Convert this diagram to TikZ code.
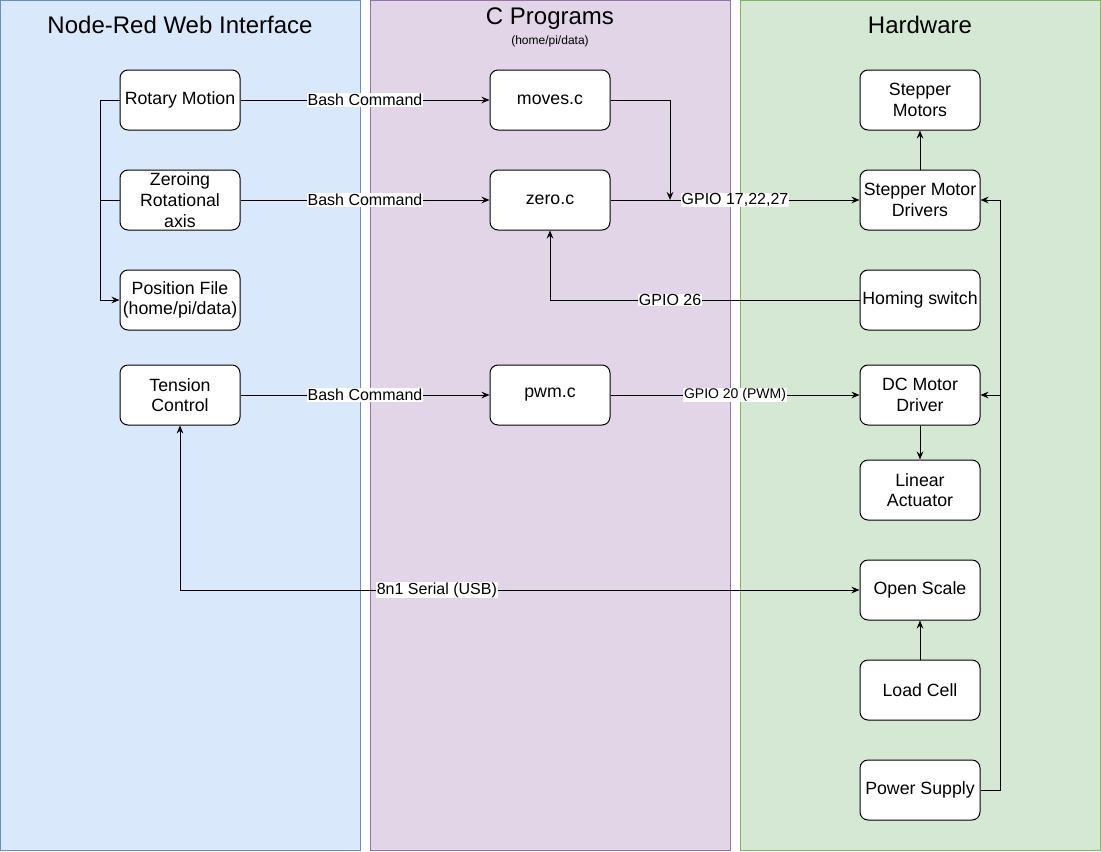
\documentclass[tikz,border=0pt]{standalone}
\usepackage{fontspec}
\setmainfont{Liberation Sans}
\usetikzlibrary{arrows.meta}
\definecolor{bluefill}{HTML}{DAE8FC}
\definecolor{bluedraw}{HTML}{6C8EBF}
\definecolor{purpfill}{HTML}{E1D5E7}
\definecolor{purpdraw}{HTML}{9673A6}
\definecolor{greenfill}{HTML}{D5E8D4}
\definecolor{greendraw}{HTML}{82B366}
\tikzset{
  box/.style={draw=black, fill=white, rounded corners=6pt, minimum width=90pt, minimum height=45pt,
    align=center, inner sep=1pt, font=\fontsize{13.3}{15.5}\selectfont, line width=0.75pt},
  conn/.style={draw=black, line width=0.75pt, -{Stealth[length=6pt,width=5pt,inset=2pt]}},
  plain/.style={draw=black, line width=0.75pt},
  lbl/.style={fill=white, inner sep=0.5pt, font=\fontsize{12}{14}\selectfont},
  lblsmall/.style={fill=white, inner sep=0.5pt, font=\fontsize{10.5}{12}\selectfont},
  title/.style={font=\fontsize{18}{21}\selectfont},
}
\begin{document}
\begin{tikzpicture}[x=0.75pt,y=-0.75pt]
\useasboundingbox (0,0) rectangle (1101,851);
% lanes
\draw[fill=bluefill, draw=bluedraw, line width=0.75pt] (0.5,0.5) rectangle (360,850);
\draw[fill=purpfill, draw=purpdraw, line width=0.75pt] (370,0.5) rectangle (730,850);
\draw[fill=greenfill, draw=greendraw, line width=0.75pt] (740,0.5) rectangle (1100.5,850);
\node[title] (t1) at (180,25) {Node-Red Web Interface};
\node[title] (t2) at (550,19) {C Programs};
\node[font=\fontsize{9}{10}\selectfont] (t2s) at (550,41) {(home/pi/data)};
\node[title] (t3) at (920,25) {Hardware};
% nodes
\node[box] (rot) at (180,100) {Rotary Motion};
\node[box] (zer) at (180,200) {Zeroing\\Rotational\\axis};
\node[box] (pos) at (180,300) {Position File\\(home/pi/data)};
\node[box] (ten) at (180,395) {Tension\\Control};
\node[box] (mov) at (550,100) {moves.c};
\node[box] (zc) at (550,200) {zero.c};
\node[box] (pwm) at (550,395) {pwm.c};
\node[box] (stm) at (920,100) {Stepper\\Motors};
\node[box] (smd) at (920,200) {Stepper Motor\\Drivers};
\node[box] (hom) at (920,300) {Homing switch};
\node[box] (dcm) at (920,395) {DC Motor\\Driver};
\node[box] (lin) at (920,490) {Linear\\Actuator};
\node[box] (osc) at (920,590) {Open Scale};
\node[box] (lc) at (920,690) {Load Cell};
\node[box] (ps) at (920,790) {Power Supply};
\coordinate (j1) at (670,200);
\coordinate (jl) at (100,100);
\coordinate (jl2) at (100,200);
\coordinate (jr) at (1000,790);
\coordinate (jr2) at (1000,395);
% connectors
\draw[conn] (rot) -- node[lbl]{Bash Command} (mov);
\draw[conn] (zer) -- node[lbl]{Bash Command} (zc);
\draw[conn] (ten) -- node[lbl]{Bash Command} (pwm);
\draw[conn] (mov.east) -| (j1);
\draw[conn] (zc) -- node[lbl]{GPIO 17,22,27} (smd);
\draw[conn] (hom.west) -| node[lbl, pos=0.306]{GPIO 26} (zc.south);
\draw[conn] (pwm) -- node[lblsmall]{GPIO 20 (PWM)} (dcm);
\draw[conn] (smd) -- (stm);
\draw[conn] (dcm) -- (lin);
\draw[conn] (lc) -- (osc);
\draw[conn, {Stealth[length=6pt,width=5pt,inset=2pt]}-{Stealth[length=6pt,width=5pt,inset=2pt]}] (ten.south) |- node[lbl, pos=0.689]{8n1 Serial (USB)} (osc.west);
\draw[conn] (rot.west) -- (jl) |- (pos.west);
\draw[plain] (zer.west) -- (jl2);
\draw[conn] (ps.east) -- (jr) |- (smd.east);
\draw[conn] (jr2) -- (dcm.east);
\end{tikzpicture}
\end{document}
